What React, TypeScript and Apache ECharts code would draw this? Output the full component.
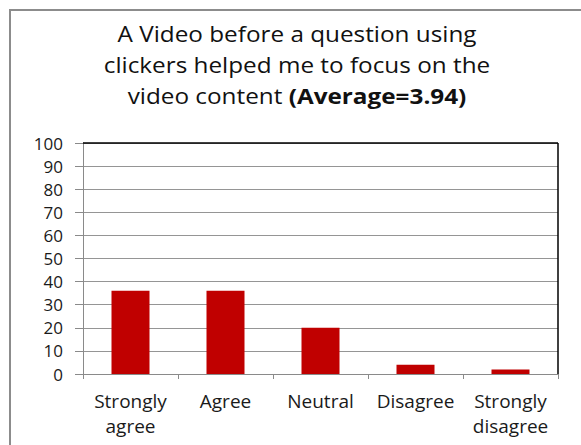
import React, { useEffect, useRef } from "react";
import * as echarts from "echarts";

const categories = ["Strongly\nagree", "Agree", "Neutral", "Disagree", "Strongly\ndisagree"];
const percentages = [36, 36, 20, 4, 2];
const titleLines = [
  "A Video before a question using",
  "clickers helped me to focus on the",
  "video content ",
];
const averageLabel = "(Average=3.94)";

const FONT = "'Open Sans', 'Noto Sans', sans-serif";

export default function App() {
  const ref = useRef<HTMLDivElement>(null);

  useEffect(() => {
    if (!ref.current) return;
    const chart = echarts.init(ref.current, undefined, { renderer: "svg" });
    const left = 83;
    const top = 143;
    const right = 23;
    const bottom = 71;
    const W = 581;
    const H = 445;
    chart.setOption({
      animation: false,
      backgroundColor: "#ffffff",
      textStyle: { fontFamily: FONT },
      grid: { left, top, right, bottom, containLabel: false },
      xAxis: {
        type: "category",
        data: categories,
        axisLine: { lineStyle: { color: "#8a8a8a", width: 1 } },
        axisTick: { show: true, alignWithLabel: false, length: 5, lineStyle: { color: "#8a8a8a" } },
        axisLabel: { fontFamily: FONT, fontSize: 19, color: "#1a1a1a", margin: 14, lineHeight: 25, interval: 0 },
      },
      yAxis: {
        type: "value",
        min: 0,
        max: 100,
        interval: 10,
        axisLine: { show: true, lineStyle: { color: "#8a8a8a", width: 1 } },
        axisTick: { show: true, length: 8, lineStyle: { color: "#8a8a8a" } },
        axisLabel: { fontFamily: FONT, fontSize: 17, color: "#1a1a1a", margin: 20 },
        splitLine: { show: true, lineStyle: { color: "#959595", width: 1 } },
      },
      series: [
        {
          type: "bar",
          data: percentages,
          barWidth: "40%",
          itemStyle: { color: "#c00000" },
        },
      ],
      graphic: [
        {
          type: "rect",
          shape: { x: 10, y: 10, width: W + 20, height: H + 20 },
          style: { fill: "none", stroke: "#8c8c8c", lineWidth: 2 },
          silent: true,
        },
        {
          type: "text",
          x: 297,
          y: 18,
          scaleX: 1.13,
          style: {
            text: `${titleLines[0]}\n${titleLines[1]}\n${titleLines[2]}{b|${averageLabel}}`,
            align: "center",
            verticalAlign: "top",
            fontFamily: FONT,
            fontSize: 21.5,
            lineHeight: 31,
            fill: "#111",
            rich: {
              b: { fontFamily: FONT, fontSize: 21.5, fontWeight: "bold", fill: "#111", lineHeight: 31 },
            },
          },
        },
        {
          type: "line",
          shape: { x1: left, y1: top, x2: W - right, y2: top },
          style: { stroke: "#000", lineWidth: 1.5 },
          z: 10,
        },
        {
          type: "line",
          shape: { x1: W - right, y1: top, x2: W - right, y2: H - bottom },
          style: { stroke: "#000", lineWidth: 1.5 },
          z: 10,
        },
      ],
    });
    return () => chart.dispose();
  }, []);

  return (
    <div
      ref={ref}
      style={{ position: "fixed", left: 0, top: 0, width: 581, height: 445, background: "#fff" }}
    />
  );
}
